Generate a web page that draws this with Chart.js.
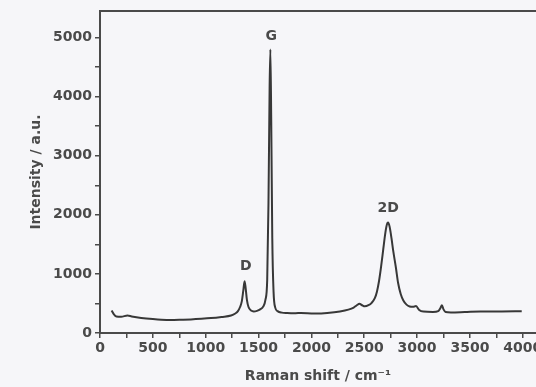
<!DOCTYPE html>
<html>
<head>
<meta charset="utf-8">
<script src="https://cdn.jsdelivr.net/npm/chart.js@4/dist/chart.umd.min.js"></script>
<style>
  html, body { margin: 0; padding: 0; background: #f6f6f9; }
  #wrap { width: 536px; height: 387px; position: relative; }
</style>
</head>
<body>
<div id="wrap"><canvas id="raman"></canvas></div>
<script>
// Raman spectrum
var ramanShift = [110, 130, 155, 200, 260, 300, 390, 500, 580, 700, 770, 860, 960, 1050, 1150, 1240, 1280, 1305, 1325, 1342,
  1356, 1368, 1378, 1390, 1405, 1430, 1455, 1485, 1515, 1545, 1565, 1582, 1594, 1605, 1612, 1620, 1630, 1642, 1658, 1680,
  1720, 1770, 1850, 1900, 2000, 2050, 2150, 2270, 2350, 2400, 2430, 2455, 2480, 2505, 2540, 2570, 2600, 2620, 2640, 2660,
  2680, 2700, 2715, 2725, 2740, 2758, 2775, 2800, 2820, 2845, 2870, 2900, 2930, 2960, 2990, 3020, 3060, 3150, 3200, 3220,
  3235, 3250, 3270, 3320, 3450, 3600, 3800, 3990];
var intensity = [380, 320, 280, 275, 295, 280, 255, 235, 225, 222, 225, 230, 240, 252, 272, 295, 330, 370, 440, 540,
  720, 875, 760, 560, 440, 380, 365, 375, 400, 450, 560, 900, 2200, 4200, 4800, 3600, 1600, 700, 430, 370,
  345, 338, 335, 338, 332, 330, 340, 365, 395, 430, 470, 495, 470, 452, 470, 510, 590, 700, 880, 1130,
  1420, 1700, 1840, 1870, 1800, 1600, 1380, 1100, 850, 660, 550, 480, 450, 445, 455, 390, 362, 355, 370, 420,
  470, 400, 355, 348, 355, 365, 365, 368];

var xTicks = [0, 250, 500, 750, 1000, 1250, 1500, 1750, 2000, 2250, 2500, 2750, 3000, 3250, 3500, 3750, 4000];
var yTicks = [0, 500, 1000, 1500, 2000, 2500, 3000, 3500, 4000, 4500, 5000];

var peakNames = ["D", "G", "2D"];
var peakShift = [1379, 1620, 2727];
var peakHeight = [1005, 4900, 1990];

var points = ramanShift.map(function(x, i) { return { x: x, y: intensity[i] }; });

var textColor = "#4a4a4a";
var axisColor = "#4a4a4a";
var fontFamily = "'DejaVu Sans', sans-serif";

// top frame line + peak names
var framePlugin = {
  id: "frame",
  afterDraw: function(chart) {
    var ctx = chart.ctx;
    var a = chart.chartArea;
    var xs = chart.scales.x, ys = chart.scales.y;
    ctx.save();
    ctx.strokeStyle = axisColor;
    ctx.lineWidth = 2;
    ctx.beginPath();
    ctx.moveTo(a.left, a.top);
    ctx.lineTo(a.right, a.top);
    ctx.stroke();

    ctx.fillStyle = textColor;
    ctx.font = "bold 14px " + fontFamily;
    ctx.textAlign = "center";
    ctx.textBaseline = "bottom";
    peakNames.forEach(function(name, i) {
      ctx.fillText(name, xs.getPixelForValue(peakShift[i]), ys.getPixelForValue(peakHeight[i]));
    });
    ctx.restore();
  }
};

new Chart(document.getElementById("raman"), {
  type: "line",
  data: {
    datasets: [{
      data: points,
      borderColor: "#383838",
      borderWidth: 2,
      pointRadius: 0,
      cubicInterpolationMode: "monotone",
      fill: false
    }]
  },
  options: {
    responsive: true,
    maintainAspectRatio: false,
    animation: false,
    layout: { padding: { top: 11, right: 0, left: 0, bottom: 0 } },
    plugins: {
      legend: { display: false },
      tooltip: { enabled: false }
    },
    scales: {
      x: {
        type: "linear",
        min: 0,
        max: 4125,
        afterBuildTicks: function(scale) {
          scale.ticks = xTicks.map(function(v) { return { value: v }; });
        },
        afterFit: function(scale) {
          scale.height = 54;
          scale.paddingLeft = 0;
          scale.paddingRight = 0;
        },
        grid: { drawOnChartArea: false, drawTicks: true, tickLength: 5, color: axisColor, lineWidth: 1.5 },
        border: { color: axisColor, width: 2 },
        ticks: {
          autoSkip: false,
          maxRotation: 0,
          padding: 2,
          color: textColor,
          font: { family: fontFamily, size: 14, weight: "bold" },
          callback: function(v) { return v % 500 === 0 ? String(v) : ""; }
        },
        title: {
          display: true,
          text: "Raman shift / cm\u207B\u00B9",
          color: textColor,
          font: { family: fontFamily, size: 14, weight: "bold" },
          padding: { top: 2, bottom: 2 }
        }
      },
      y: {
        min: 0,
        max: 5450,
        afterBuildTicks: function(scale) {
          scale.ticks = yTicks.map(function(v) { return { value: v }; });
        },
        afterFit: function(scale) {
          scale.width = 100;
          scale.paddingTop = 0;
          scale.paddingBottom = 0;
        },
        grid: { drawOnChartArea: false, drawTicks: true, tickLength: 5, color: axisColor, lineWidth: 1.5 },
        border: { color: axisColor, width: 2 },
        ticks: {
          autoSkip: false,
          padding: 3,
          color: textColor,
          font: { family: fontFamily, size: 14, weight: "bold" },
          callback: function(v) { return v % 1000 === 0 ? String(v) : ""; }
        },
        title: {
          display: true,
          text: "Intensity / a.u.",
          color: textColor,
          font: { family: fontFamily, size: 14, weight: "bold" },
          padding: { top: 28, bottom: 28 }
        }
      }
    }
  },
  plugins: [framePlugin]
});
</script>
</body>
</html>
